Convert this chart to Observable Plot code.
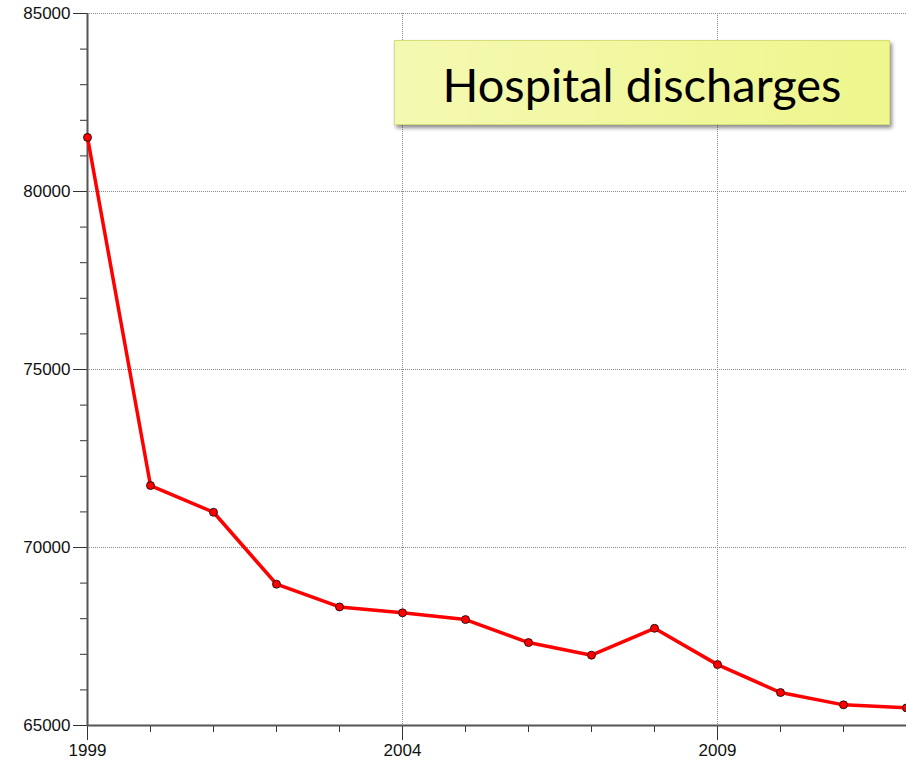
<!DOCTYPE html>
<html>
<head>
<meta charset="utf-8">
<script src="https://cdn.jsdelivr.net/npm/d3@7"></script>
<script src="https://cdn.jsdelivr.net/npm/@observablehq/plot@0.6"></script>
<style>
  html, body { margin: 0; padding: 0; background: #fff; }
  #wrap { position: relative; width: 906px; height: 761px; overflow: hidden; }
  #title {
    position: absolute; left: 394px; top: 40px; width: 494px; height: 81px;
    background: linear-gradient(to right, #f4f9b2, #eef68c);
    border: 1px solid #d6de78;
    box-shadow: 2px 3px 4px rgba(0,0,0,0.45);
    display: flex; align-items: center; justify-content: center;
    font-family: Lato, "Open Sans", sans-serif; font-size: 47px; color: #000;
    box-sizing: content-box; padding-top: 2px;
  }
</style>
</head>
<body>
<div id="wrap">
  <div id="chart"></div>
  <div id="title">Hospital discharges</div>
</div>
<script>
const years = [1999, 2000, 2001, 2002, 2003, 2004, 2005, 2006, 2007, 2008, 2009, 2010, 2011, 2012];
const discharges = [81520, 71740, 70990, 68970, 68330, 68165, 67975, 67330, 66975, 67730, 66710, 65925, 65580, 65495];
const xMajorTicks = [1999, 2004, 2009];
const xMinorTicks = years;
const yMajorTicks = [65000, 70000, 75000, 80000, 85000];
const yMinorTicks = d3.range(65000, 85001, 1000);

const data = years.map((year, i) => ({year, value: discharges[i]}));

const font = "Liberation Sans, Arial, sans-serif";

const chart = Plot.plot({
  width: 906,
  height: 761,
  marginLeft: 87,
  marginRight: 0,
  marginTop: 13,
  marginBottom: 36,
  style: {fontFamily: font, background: "#fff"},
  x: {domain: [1999, 2012]},
  y: {domain: [65000, 85000]},
  marks: [
    Plot.gridY(yMajorTicks.slice(1), {stroke: "#8a8a8a", strokeOpacity: 1, strokeDasharray: "1,1"}),
    Plot.gridX(xMajorTicks.slice(1), {stroke: "#8a8a8a", strokeOpacity: 1, strokeDasharray: "1,1"}),
    Plot.axisY(yMinorTicks, {tickSize: 7, text: null, stroke: "#333", label: null}),
    Plot.axisY(yMajorTicks, {tickSize: 14, tickPadding: 3, tickFormat: d => String(d), fontSize: 17, fill: "#111", stroke: "#333", label: null}),
    Plot.axisX(xMinorTicks, {tickSize: 7, text: null, stroke: "#333", label: null}),
    Plot.axisX(xMajorTicks, {tickSize: 15, tickPadding: 3, tickFormat: d => String(d), fontSize: 17, fill: "#111", stroke: "#333", label: null}),
    Plot.ruleX([1999], {stroke: "#555", strokeWidth: 2}),
    Plot.ruleY([65000], {stroke: "#555", strokeWidth: 2}),
    Plot.line(data, {x: "year", y: "value", stroke: "#ff0000", strokeWidth: 3.5}),
    Plot.dot(data, {x: "year", y: "value", r: 4, fill: "#ff0000", stroke: "#000", strokeWidth: 0.8})
  ]
});
document.getElementById("chart").appendChild(chart);
</script>
</body>
</html>
